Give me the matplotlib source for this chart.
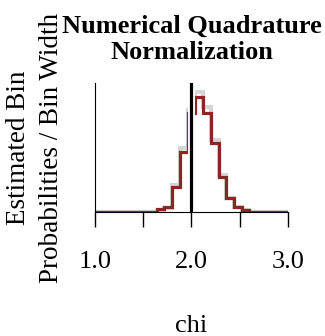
import matplotlib.pyplot as plt
import numpy as np

plt.rcParams['font.family'] = ['Liberation Serif', 'DejaVu Serif']

# 25 bins over [1, 3]
edges = np.linspace(1.0, 3.0, 26)
# estimated bin probabilities / bin width (red)
estimated = [0, 0, 0, 0, 0, 0, 0, 0, 0.06, 0.12, 0.59, 1.42, 2.34,
             2.72, 2.33, 1.62, 0.83, 0.32, 0.12, 0.04, 0.01, 0, 0, 0, 0]
# reference values (gray, behind)
reference = [0, 0, 0, 0, 0, 0, 0, 0, 0.03, 0.10, 0.64, 1.52, 2.40,
             2.84, 2.49, 1.70, 0.88, 0.34, 0.12, 0.04, 0.01, 0, 0, 0, 0]
true_chi = 2.0

fig = plt.figure(figsize=(3.25, 3.36), dpi=100)
ax = fig.add_axes([0.2923, 0.369, 0.5938, 0.384])

ax.stairs(reference, edges, color='#d6d6d6', lw=3, zorder=1)
ax.stairs(estimated, edges, color='#8b2626', lw=2.3, zorder=2)
ax.axvline(true_chi, color='white', lw=5, zorder=3)
ax.axvline(true_chi, color='black', lw=2.3, zorder=4)

ax.set_xlim(1.0, 3.0)
ax.set_ylim(0, 3.05)
ax.set_xticks([1.0, 1.5, 2.0, 2.5, 3.0])
ax.set_xticklabels(['1.0', '', '2.0', '', '3.0'])
ax.set_yticks([])
ax.tick_params(axis='x', length=11, width=1, pad=17, labelsize=19)
for s in ['top', 'right']:
    ax.spines[s].set_visible(False)
ax.spines['bottom'].set_zorder(2.5)

ax.set_xlabel('chi', fontsize=19, labelpad=30)
ax.set_ylabel('Estimated Bin\nProbabilities / Bin Width', fontsize=19.5,
              labelpad=22, linespacing=1.45)
ax.set_title('Numerical Quadrature\nNormalization', fontsize=19,
             fontweight='bold', pad=17)

fig.savefig('out.png', dpi=100)
